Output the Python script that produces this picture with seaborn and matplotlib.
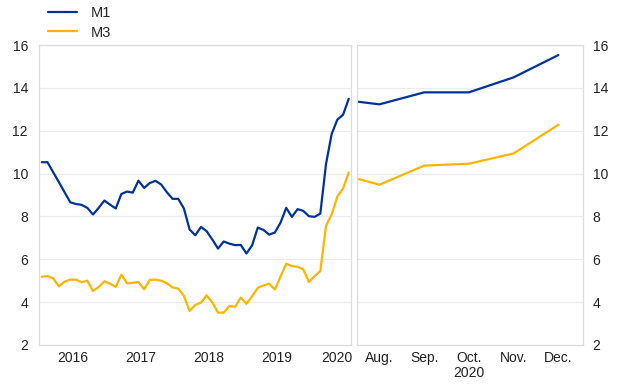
import numpy as np
import pandas as pd
import matplotlib
matplotlib.use("Agg")
import matplotlib.pyplot as plt
import seaborn as sns

# ---- data (annual growth rates, %) ----
# monthly history Jan 2016 - Jul 2020
m1_hist = [10.53, 10.53, 10.06, 9.60, 9.13, 8.66, 8.58, 8.54, 8.40, 8.09, 8.40, 8.74,
           8.55, 8.37, 9.05, 9.16, 9.11, 9.67, 9.33, 9.56, 9.66, 9.49, 9.13, 8.82,
           8.82, 8.37, 7.39, 7.12, 7.51, 7.31, 6.92, 6.50, 6.83, 6.73, 6.66, 6.67,
           6.27, 6.65, 7.48, 7.37, 7.15, 7.25, 7.71, 8.40, 7.98, 8.34, 8.26, 8.01,
           7.98, 8.13, 10.44, 11.85, 12.52, 12.74, 13.49]
m3_hist = [5.19, 5.21, 5.11, 4.74, 4.96, 5.05, 5.05, 4.93, 5.00, 4.52, 4.71, 4.97,
           4.86, 4.71, 5.28, 4.88, 4.90, 4.94, 4.60, 5.04, 5.05, 5.00, 4.88, 4.69,
           4.63, 4.29, 3.59, 3.87, 3.98, 4.32, 3.98, 3.51, 3.51, 3.82, 3.78, 4.21,
           3.92, 4.28, 4.67, 4.78, 4.86, 4.59, 5.19, 5.79, 5.68, 5.65, 5.53, 4.94,
           5.22, 5.45, 7.56, 8.10, 8.93, 9.30, 10.05]
years = ["2016", "2017", "2018", "2019", "2020"]

# Aug - Dec 2020
months = ["Aug.", "Sep.", "Oct.", "Nov.", "Dec."]
m1_2020 = [13.23, 13.79, 13.79, 14.49, 15.53]
m3_2020 = [9.48, 10.37, 10.46, 10.94, 12.28]

series = ["M1", "M3"]
colors = {"M1": "#003299", "M3": "#FFB400"}

sns.set_theme(style="white")
plt.rcParams["font.family"] = ["Liberation Sans", "DejaVu Sans"]

# long tables
n = len(m1_hist)
hist = pd.DataFrame({
    "x": np.concatenate([np.arange(n), np.arange(n)]),
    "value": m1_hist + m3_hist,
    "series": ["M1"] * n + ["M3"] * n,
})
k = len(months) + 1  # include July (last history point) for continuity
recent = pd.DataFrame({
    "x": np.concatenate([np.arange(k), np.arange(k)]),
    "value": [m1_hist[-1]] + m1_2020 + [m3_hist[-1]] + m3_2020,
    "series": ["M1"] * k + ["M3"] * k,
})

fig = plt.figure(figsize=(6.2, 3.87), dpi=100)
W, H = 620, 387
top, bot = 45, 345
ax1 = fig.add_axes([39 / W, 1 - bot / H, 312 / W, (bot - top) / H])
ax2 = fig.add_axes([357 / W, 1 - bot / H, 226 / W, (bot - top) / H])

grid_c = "#ebebeb"
frame_c = "#dcdcdc"

for ax, df in ((ax1, hist), (ax2, recent)):
    sns.lineplot(data=df, x="x", y="value", hue="series", hue_order=series,
                 palette=colors, linewidth=1.6, ax=ax, legend=(ax is ax1))
    ax.set_ylim(2, 16)
    ax.set_yticks(np.arange(2, 17, 2))
    ax.grid(axis="y", color=grid_c, linewidth=0.9)
    ax.set_axisbelow(True)
    ax.set_xlabel("")
    ax.set_ylabel("")
    for s in ax.spines.values():
        s.set_color(frame_c)
        s.set_linewidth(0.9)
    ax.tick_params(axis="both", labelsize=10, colors="#222222", length=0)

# left panel
ax1.set_xlim(-0.5, n - 0.6)
ax1.set_xticks([5.4, 17.4, 29.4, 41.4, 51.9])
ax1.set_xticklabels(years)
ax1.set_xticks(np.arange(-0.5, n, 3), minor=True)
ax1.tick_params(axis="x", which="major", length=0, pad=4)
ax1.tick_params(axis="x", which="minor", length=3, color=frame_c, width=0.8)
ax1.tick_params(axis="y", pad=8)

# right panel
ax2.set_xlim(0.5, 5.55)
ax2.set_xticks(np.arange(1, k))
labels = list(months)
labels[2] = labels[2] + "\n2020"
ax2.set_xticklabels(labels, linespacing=1.15)
ax2.set_xticks(np.arange(1.5, k - 1, 1), minor=True)
ax2.tick_params(axis="x", which="major", length=0, pad=4)
ax2.tick_params(axis="x", which="minor", length=3, color=frame_c, width=0.8)
ax2.yaxis.tick_right()
ax2.tick_params(axis="y", pad=7, labelright=True, labelleft=False)

# legend
handles, lbls = ax1.get_legend_handles_labels()
ax1.get_legend().remove()
for h in handles:
    h.set_linewidth(1.6)
fig.legend(handles, lbls, loc="upper left", bbox_to_anchor=(48 / W, 1 - 6 / H),
           frameon=False, fontsize=10.5, handlelength=2.0, handletextpad=0.95,
           labelspacing=0.38, borderpad=0, borderaxespad=0)

fig.savefig("out.png", dpi=100)
